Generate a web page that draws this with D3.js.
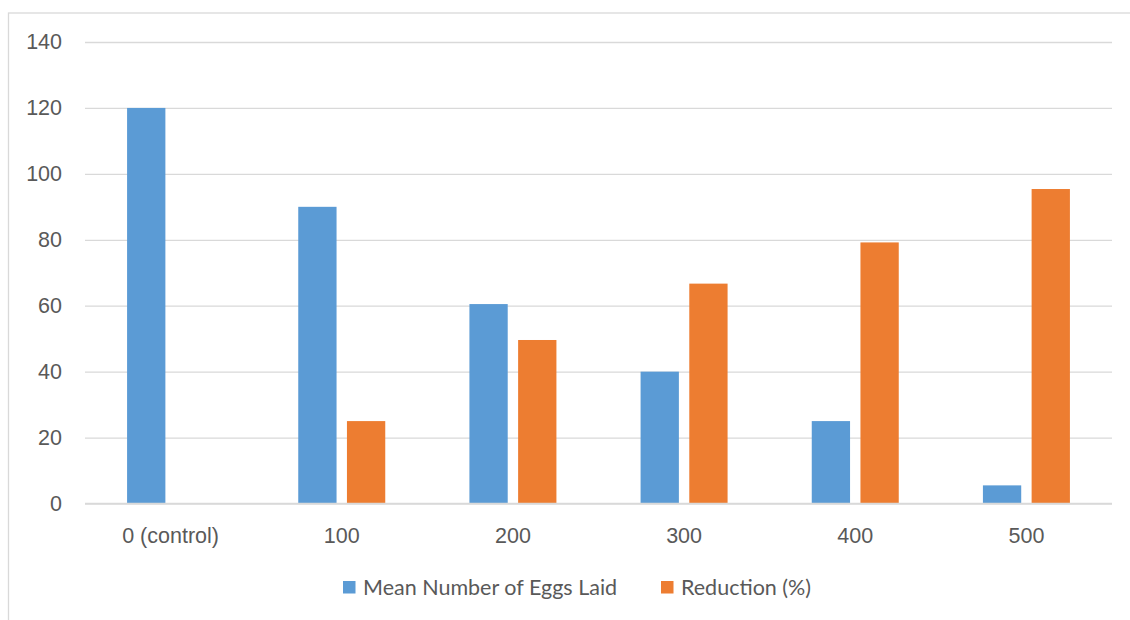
<!DOCTYPE html>
<html>
<head>
<meta charset="utf-8">
<script src="https://cdn.jsdelivr.net/npm/d3@7"></script>
<style>
  html, body { margin: 0; padding: 0; background: #fff; }
  svg { display: block; font-family: Lato, "Open Sans", sans-serif; }
</style>
</head>
<body>
<svg id="chart" width="1130" height="620"></svg>
<script>
// Dose groups and the two measured series
const categories = ["0 (control)", "100", "200", "300", "400", "500"];
const eggsLaid = [120, 90, 60.5, 40, 25, 5.5];
const reduction = [null, 25, 49.6, 66.7, 79.2, 95.4];
const yTicks = [0, 20, 40, 60, 80, 100, 120, 140];
const seriesNames = ["Mean Number of Eggs Laid", "Reduction (%)"];
const seriesColors = ["#5B9BD5", "#ED7D31"];

const svg = d3.select("#chart");
const plot = { left: 85, right: 1112, top: 42, bottom: 503.5 };
const textColor = "#595959";
const fontSize = "21.5px";

// Outer chart frame
svg.append("rect")
  .attr("x", 8.5).attr("y", 13)
  .attr("width", 1130).attr("height", 620)
  .attr("fill", "none")
  .attr("stroke", "#D9D9D9")
  .attr("stroke-width", 1.3);

const x = d3.scaleBand()
  .domain(categories)
  .range([plot.left, plot.right]);

const y = d3.scaleLinear()
  .domain([0, 140])
  .range([plot.bottom, plot.top]);

// Horizontal gridlines with value labels
const yAxis = d3.axisLeft(y)
  .tickValues(yTicks)
  .tickSize(-(plot.right - plot.left))
  .tickPadding(23);

const yg = svg.append("g")
  .attr("transform", `translate(${plot.left},0)`)
  .call(yAxis);
yg.select(".domain").remove();
yg.selectAll(".tick line")
  .attr("stroke", "#D9D9D9")
  .attr("stroke-width", 1.3);
yg.selectAll(".tick text")
  .attr("fill", textColor)
  .style("font-size", fontSize);

// Grouped bars: two slots per category, separated by a small gap
const barWidth = 38.3;
const barGap = 10.4;
const rows = categories.map((c, i) => ({ cat: c, values: [eggsLaid[i], reduction[i]] }));

const groups = svg.append("g")
  .selectAll("g")
  .data(rows)
  .join("g")
  .attr("transform", d => `translate(${x(d.cat) + x.bandwidth() / 2},0)`);

groups.selectAll("rect")
  .data(d => d.values.map((v, k) => ({ v, k })).filter(e => e.v !== null))
  .join("rect")
  .attr("x", e => e.k === 0 ? -(barWidth + barGap / 2) : barGap / 2)
  .attr("width", barWidth)
  .attr("y", e => y(e.v))
  .attr("height", e => y(0) - y(e.v))
  .attr("fill", e => seriesColors[e.k]);

// Category axis labels
const xAxis = d3.axisBottom(x).tickSize(0).tickPadding(24);
const xg = svg.append("g")
  .attr("transform", `translate(0,${plot.bottom})`)
  .call(xAxis);
xg.select(".domain").remove();
xg.selectAll(".tick text")
  .attr("fill", textColor)
  .style("font-size", fontSize);

// Baseline drawn over the bars' bottoms
svg.append("line")
  .attr("x1", plot.left).attr("x2", plot.right)
  .attr("y1", y(0)).attr("y2", y(0))
  .attr("stroke", "#D9D9D9")
  .attr("stroke-width", 1.3);

// Legend
const legendItems = [
  { name: seriesNames[0], color: seriesColors[0], x: 343 },
  { name: seriesNames[1], color: seriesColors[1], x: 661 }
];
const legend = svg.append("g");
const li = legend.selectAll("g")
  .data(legendItems)
  .join("g")
  .attr("transform", d => `translate(${d.x},581)`);
li.append("rect")
  .attr("width", 12.5).attr("height", 12.5)
  .attr("fill", d => d.color);
li.append("text")
  .attr("x", 20).attr("y", 6.5)
  .attr("dy", "0.35em")
  .attr("fill", textColor)
  .style("font-size", fontSize)
  .text(d => d.name);
</script>
</body>
</html>
